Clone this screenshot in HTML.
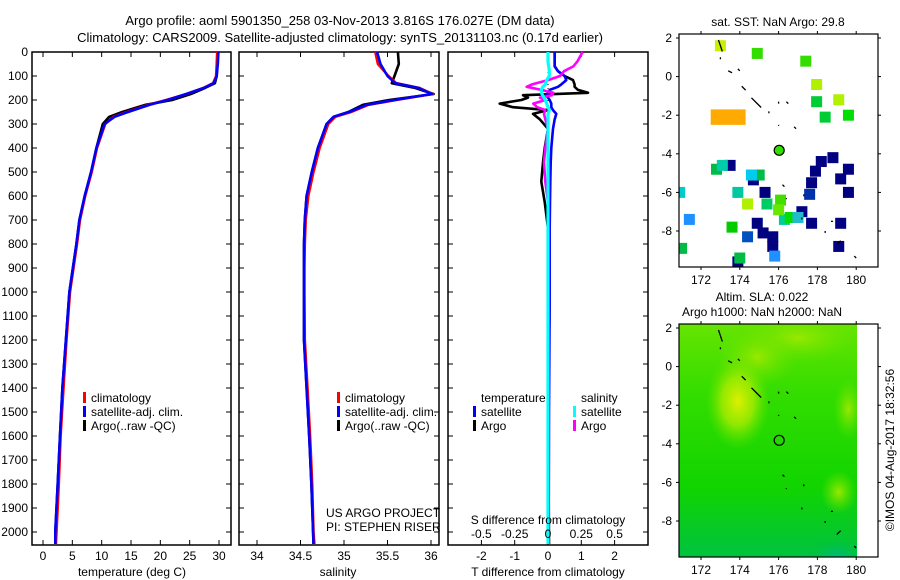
<!DOCTYPE html>
<html><head><meta charset="utf-8"><style>
html,body{margin:0;padding:0;background:#fff;}
svg{display:block;font-family:"Liberation Sans",sans-serif;}
</style></head><body>
<svg id="chart" width="900" height="580" viewBox="0 0 900 580">
<text x="340" y="25" font-size="13" text-anchor="middle">Argo profile: aoml 5901350_258 03-Nov-2013 3.816S 176.027E (DM data)</text>
<text x="340" y="42" font-size="13" text-anchor="middle">Climatology: CARS2009. Satellite-adjusted climatology: synTS_20131103.nc (0.17d earlier)</text>
</svg>
<script>
// ---------- data ----------
const depth = [0,50,100,130,150,175,200,220,250,270,300,400,500,600,700,800,900,1000,1200,1400,1600,1800,2000,2050];
const tempClim = [29.7,29.6,29.5,29.0,27.3,24.5,21.0,18.0,14.3,12.0,10.6,9.2,8.3,7.2,6.3,5.8,5.2,4.6,4.0,3.5,3.0,2.7,2.3,2.2];
const tempSat  = [29.9,29.8,29.6,29.1,27.4,24.4,21.2,18.2,14.5,12.2,10.5,9.1,8.2,7.1,6.2,5.7,5.1,4.5,3.9,3.3,2.9,2.5,2.1,2.1];
const tempArgo = [29.8,29.7,29.6,29.3,27.6,25.2,22.0,17.5,13.5,11.3,10.2,9.1,8.2,7.1,6.2,5.7,5.1,4.5,3.9,3.3,2.9,2.5,2.1,2.1];
const salClim = [35.36,35.39,35.51,35.60,35.87,36.02,35.60,35.28,35.08,34.90,34.82,34.72,34.65,34.59,34.56,34.55,34.545,34.545,34.55,34.58,34.61,34.635,34.65,34.66];
const salSat  = [35.38,35.42,35.50,35.59,35.86,36.01,35.58,35.26,35.06,34.88,34.80,34.70,34.63,34.57,34.55,34.54,34.54,34.54,34.54,34.57,34.60,34.625,34.645,34.65];
const salArgo = [35.62,35.63,35.58,35.55,35.82,36.03,35.52,35.22,35.05,34.88,34.80,34.70,34.63,34.57,34.55,34.54,34.54,34.54,34.54,34.57,34.60,34.625,34.645,34.65];
const diffDepth = [0,40,60,80,100,117,135,145,158,170,180,190,200,215,230,242,258,280,320,400,460,540,625,735,1000,1500,2050];
const tDiffArgo = [0.2,0.2,0.2,0.3,0.5,0.75,0.8,0.8,0.9,1.2,-0.75,-0.6,-0.8,-1.45,-1.05,0,-0.45,-0.25,0,-0.1,-0.15,-0.2,-0.1,0,0.05,0,0.03];
const tDiffSat  = [0.2,0.2,0.2,0.3,0.5,0.55,0.4,0.3,0.05,0,-0.05,0,0.05,0.1,0.1,0.15,0.25,0.2,0.15,0.1,0.08,0.07,0.06,0.05,0.05,0.03,0.02];
const sDiffArgo = [0.26,0.22,0.19,0.12,0.09,0.0,-0.12,-0.16,-0.05,0.04,0.03,-0.06,-0.02,-0.11,-0.08,-0.02,-0.03,-0.02,0,-0.02,-0.03,-0.02,0,0,0,0,0];
const sDiffSat  = [0,0,0.005,0.01,0.01,-0.01,-0.02,-0.04,-0.05,-0.05,-0.04,-0.03,-0.02,-0.01,0,0.01,0,0,0,0,0,0,0,0,0,0,0];
const depthTicks = [0,100,200,300,400,500,600,700,800,900,1000,1100,1200,1300,1400,1500,1600,1700,1800,1900,2000];
const tempTicks = [0,5,10,15,20,25,30];
const salTicks = [34,34.5,35,35.5,36];
const salTickLabels = ["34","34.5","35","35.5","36"];
const tDiffTicks = [-2,-1,0,1,2];
const sDiffTicks = [-0.5,-0.25,0,0.25,0.5];
const sDiffTickLabels = ["-0.5","-0.25","0","0.25","0.5"];
const lonTicks = [172,174,176,178,180];
const latTicks = [2,0,-2,-4,-6,-8];
const latTickLabels = ["2","0","-2","-4","-6","-8"];
// SST squares: lon, lat, colour
const sstLon = [173.0,174.9,177.4,177.96,177.96,179.1,178.4,179.6,178.2,178.8,177.9,177.7,179.6,179.2,179.6,179.2,179.1,177.7,177.2,175.7,175.7,175.2,174.9,174.7,175.3,173.5,173.9,177.6,174.4,171.4,175.8,170.9,172.8,171.0,174.0,173.6,175.0,173.9,174.4,175.4,176.1,176.3,176.6,177.0,174.6,173.1,176.0];
const sstLat = [1.6,1.2,0.8,-0.41,-1.3,-1.2,-2.1,-2.0,-4.4,-4.2,-4.9,-5.5,-4.8,-5.3,-6.0,-7.6,-8.8,-7.6,-7.0,-8.3,-8.8,-8.1,-7.6,-5.35,-6.0,-4.6,-9.6,-6.1,-8.3,-7.4,-9.3,-6.0,-4.8,-8.9,-9.4,-7.8,-5.1,-6.0,-6.6,-6.6,-6.4,-7.4,-7.3,-7.3,-5.1,-4.6,-6.9];
const sstColor = ["#c8f000","#33dd00","#33dd00","#b0f000","#00cc33","#b0f000","#00cc33","#00dd00","#000080","#000080","#000080","#000080","#000080","#000080","#000080","#000080","#000080","#000080","#000080","#000080","#000080","#000080","#000080","#000080","#000080","#000080","#000080","#0033aa","#0050c0","#1e90ff","#1e90ff","#00cccc","#00bb44","#00bb44","#00bb44","#00cc00","#00bb44","#00c8a0","#b0f000","#00cc66","#44dd00","#00cc99","#00dd00","#22bbcc","#00ccee","#00ccaa","#66e800"];
const orangeLon = [172.5,174.3];
const orangeLat = [-1.7,-2.5];
const argoLon = 176.03, argoLat = -3.82;

// ---------- helpers ----------
const NS = "http://www.w3.org/2000/svg";
const svg = document.getElementById('chart');
function mk(tag, attrs, parent){
  const e = document.createElementNS(NS, tag);
  for (const k in attrs) e.setAttribute(k, attrs[k]);
  (parent||svg).appendChild(e);
  return e;
}
function txt(x,y,s,size,anchor,parent){
  const t = mk('text',{x:x,y:y,'font-size':size||12,'text-anchor':anchor||'middle'},parent);
  t.textContent = s;
  return t;
}
const PT = 52, PB = 545;
const yDepth = d => PT + d*0.24;
const xTemp = v => 43 + v*5.867;
const xSal = v => 257 + (v-34)*87;
const xTD = v => 548 + v*33.3;
const xSD = v => 548 + v*133.2;

function frame(x0,x1,name){
  const r = mk('rect',{x:x0,y:PT,width:x1-x0,height:PB-PT,fill:'none',stroke:'#000','stroke-width':1.5});
  
  
  depthTicks.forEach(d=>{
    const y = yDepth(d);
    mk('line',{x1:x0,y1:y,x2:x0+5,y2:y,stroke:'#000'});
    mk('line',{x1:x1,y1:y,x2:x1-5,y2:y,stroke:'#000'});
  });
}
function series(xs, ys, xf, color, name, w){
  const pts = xs.map((v,i)=>xf(v).toFixed(1)+','+yDepth(ys[i]).toFixed(1)).join(' ');
  const p = mk('polyline',{points:pts,fill:'none',stroke:color,'stroke-width':w||2.6,'stroke-linejoin':'round'});
  
  
}
function xticks(ticks, labels, xf, x0, x1, labY){
  ticks.forEach((v,i)=>{
    const x = xf(v);
    mk('line',{x1:x,y1:PT,x2:x,y2:PT+5,stroke:'#000'});
    mk('line',{x1:x,y1:PB,x2:x,y2:PB-5,stroke:'#000'});
    if (labY) {
      const t = txt(x,labY,labels[i],12);
      
      
    }
  });
}
function legendRow(x,y,color,label,name){
  mk('rect',{x:x,y:y-10,width:3,height:11,fill:color});
  const t = txt(x+8,y,label,12,'start');
  
  
}

// depth labels
depthTicks.forEach(d=>{
  const t = txt(28, yDepth(d)+4, String(d), 12, 'end');
  
  
});

// ---- panel 1 temperature ----
frame(32,231,'temperature-panel');
xticks(tempTicks, tempTicks.map(String), xTemp, 32, 231, 560);
series(tempArgo, depth, xTemp, '#000', 'temp-argo-line');
series(tempClim, depth, xTemp, '#ff0000', 'temp-climatology-line');
series(tempSat, depth, xTemp, '#0000ff', 'temp-satellite-line');
let t1 = txt(132,576,'temperature (deg C)',12);


legendRow(83,402,'#ff0000','climatology','legend-climatology');
legendRow(83,416,'#0000ff','satellite-adj. clim.','legend-satellite');
legendRow(83,430,'#000','Argo(..raw -QC)','legend-argo');

// ---- panel 2 salinity ----
frame(239,439,'salinity-panel');
xticks(salTicks, salTickLabels, xSal, 239, 439, 560);
series(salArgo, depth, xSal, '#000', 'sal-argo-line');
series(salClim, depth, xSal, '#ff0000', 'sal-climatology-line');
series(salSat, depth, xSal, '#0000ff', 'sal-satellite-line');
let t2 = txt(338,576,'salinity',12);


legendRow(337,402,'#ff0000','climatology','legend-climatology-2');
legendRow(337,416,'#0000ff','satellite-adj. clim.','legend-satellite-2');
legendRow(337,430,'#000','Argo(..raw -QC)','legend-argo-2');
let pr = txt(326,517,'US ARGO PROJECT',12,'start');


let pi = txt(326,531,'PI: STEPHEN RISER',12,'start');



// ---- panel 3 differences ----
frame(448,648,'difference-panel');
xticks(tDiffTicks, tDiffTicks.map(String), xTD, 448, 648, 560);
mk('line',{x1:xTD(0),y1:PT,x2:xTD(0),y2:PB,stroke:'#000','stroke-width':1,'stroke-dasharray':'1,3'});
series(tDiffArgo, diffDepth, xTD, '#000', 'tdiff-argo-line');
series(tDiffSat, diffDepth, xTD, '#0000ff', 'tdiff-satellite-line');
series(sDiffArgo, diffDepth, xSD, '#ff00ff', 'sdiff-argo-line');
series(sDiffSat, diffDepth, xSD, '#00ffff', 'sdiff-satellite-line', 3.2);
sDiffTicks.forEach((v,i)=>{
  const t = txt(xSD(v),538,sDiffTickLabels[i],12);
  
  
});
let t3 = txt(548,524,'S difference from climatology',12);


let t4 = txt(548,576,'T difference from climatology',12);


let lt = txt(481,402,'temperature',12,'start');


legendRow(473,416,'#0000ff','satellite','legend-t-satellite');
legendRow(473,430,'#000','Argo','legend-t-argo');
let ls = txt(581,402,'salinity',12,'start');


legendRow(573,416,'#00ffff','satellite','legend-s-satellite');
legendRow(573,430,'#ff00ff','Argo','legend-s-argo');

// ---- maps ----
const mxLon = v => 701 + (v-172)*19.4;
function mapFrame(top, name){
  const myLat = v => top + 4 + (2-v)*19.3;
  const r = mk('rect',{x:679,y:top,width:199,height:233,fill:'none',stroke:'#000','stroke-width':1.2});
  
  
  lonTicks.forEach(v=>{
    const x = mxLon(v);
    mk('line',{x1:x,y1:top,x2:x,y2:top-3,stroke:'#000'});
    mk('line',{x1:x,y1:top+233,x2:x,y2:top+236,stroke:'#000'});
    const t = txt(x,top+250,String(v),12);
    
    
  });
  latTicks.forEach((v,i)=>{
    const y = myLat(v);
    mk('line',{x1:679,y1:y,x2:676,y2:y,stroke:'#000'});
    mk('line',{x1:878,y1:y,x2:881,y2:y,stroke:'#000'});
    const t = txt(672,y+4,latTickLabels[i],12,'end');
    
    
  });
  return myLat;
}
function coast(myLat){
  const segs = [[[172.9,1.9],[173.0,1.6],[173.1,1.3]],[[173.0,1.0],[173.0,0.9]],[[173.4,0.3],[173.6,0.2]],[[173.9,0.4],[174.0,0.3]],[[174.1,-0.5],[174.3,-0.7]],[[174.6,-1.1],[174.9,-1.4],[175.1,-1.6]],[[175.5,-1.8],[175.5,-1.9]],[[176.0,-1.3],[176.0,-1.4]],[[176.4,-1.3],[176.5,-1.4]],[[176.0,-2.5],[176.0,-2.55]],[[176.8,-2.6],[176.9,-2.7]],[[176.2,-5.6],[176.3,-5.7]],[[177.3,-6.1],[177.3,-6.2]],[[176.4,-6.3],[176.4,-6.35]],[[177.2,-7.3],[177.2,-7.4]],[[178.7,-7.5],[178.8,-7.5]],[[178.4,-8.0],[178.4,-8.1]],[[179.2,-8.5],[179.0,-8.7]],[[179.9,-9.3],[180.0,-9.4]]];
  segs.forEach(s=>{
    mk('polyline',{points:s.map(p=>mxLon(p[0])+','+myLat(p[1])).join(' '),fill:'none',stroke:'#000','stroke-width':1.3});
  });
}

// top map (SST)
let mt1 = txt(778,26,'sat. SST: NaN Argo: 29.8',12);


const latTop = v => 38 + (2-v)*19.3;
mk('clipPath',{id:'clipTop'}); 
document.getElementById('clipTop').appendChild(Object.assign(document.createElementNS(NS,'rect'),{}));
const cr = document.getElementById('clipTop').firstChild;
cr.setAttribute('x',679); cr.setAttribute('y',34); cr.setAttribute('width',199); cr.setAttribute('height',233);
const gTop = mk('g',{'clip-path':'url(#clipTop)'});


mk('rect',{x:mxLon(orangeLon[0]),y:latTop(orangeLat[0]),width:mxLon(orangeLon[1])-mxLon(orangeLon[0]),height:latTop(orangeLat[1])-latTop(orangeLat[0]),fill:'#ffaa00'},gTop);
sstLon.forEach((lon,i)=>{
  const c = mk('rect',{x:mxLon(lon)-5.5,y:latTop(sstLat[i])-5.5,width:11,height:11,fill:sstColor[i]},gTop);
  
  
});
coast(latTop);
const ac = mk('circle',{cx:mxLon(argoLon),cy:latTop(argoLat),r:5,fill:'#33dd00',stroke:'#000','stroke-width':1.2});


mapFrame(34,'sst-map-frame');

// bottom map (SLA)
let mt2 = txt(762,301,'Altim. SLA: 0.022',12);


let mt3 = txt(762,316,'Argo h1000: NaN h2000: NaN',12);


const latBot = v => 328 + (2-v)*19.3;
const defs = mk('defs',{});
defs.innerHTML = '<linearGradient id="gBase" x1="0" y1="0" x2="0" y2="1"><stop offset="0" stop-color="#66e400"/><stop offset="0.3" stop-color="#33dd00"/><stop offset="0.7" stop-color="#11d400"/><stop offset="1" stop-color="#00c240"/></linearGradient>'+
'<radialGradient id="gY"><stop offset="0" stop-color="#ddf000"/><stop offset="0.5" stop-color="#aaec00" stop-opacity="0.8"/><stop offset="1" stop-color="#66e400" stop-opacity="0"/></radialGradient>'+
'<radialGradient id="gL"><stop offset="0" stop-color="#99e800"/><stop offset="1" stop-color="#66e400" stop-opacity="0"/></radialGradient>'+
'<radialGradient id="gT"><stop offset="0" stop-color="#00bb77"/><stop offset="1" stop-color="#00c040" stop-opacity="0"/></radialGradient>'+
'<clipPath id="clipBot"><rect x="679" y="324" width="178" height="233"/></clipPath>';
const gBot = mk('g',{'clip-path':'url(#clipBot)'});


mk('rect',{x:679,y:324,width:178,height:233,fill:'url(#gBase)'},gBot);
mk('ellipse',{cx:mxLon(177),cy:latBot(1.5),rx:60,ry:25,fill:'url(#gL)'},gBot);
mk('ellipse',{cx:mxLon(174.9),cy:latBot(0.5),rx:40,ry:30,fill:'url(#gL)'},gBot);
mk('ellipse',{cx:mxLon(173.9),cy:latBot(-1.8),rx:32,ry:48,fill:'url(#gY)'},gBot);
mk('ellipse',{cx:mxLon(179.1),cy:latBot(-6.5),rx:18,ry:22,fill:'url(#gL)'},gBot);
mk('ellipse',{cx:mxLon(179.6),cy:latBot(-2.2),rx:15,ry:30,fill:'url(#gL)'},gBot);
mk('ellipse',{cx:mxLon(179),cy:latBot(-9.8),rx:30,ry:18,fill:'url(#gT)'},gBot);
coast(latBot);
mk('circle',{cx:mxLon(argoLon),cy:latBot(argoLat),r:5,fill:'none',stroke:'#000','stroke-width':1.2});
mapFrame(324,'sla-map-frame');

const cp = txt(0,0,'©IMOS 04-Aug-2017 18:32:56',12);
cp.setAttribute('transform','translate(894,450) rotate(-90)');


</script>
</body></html>
